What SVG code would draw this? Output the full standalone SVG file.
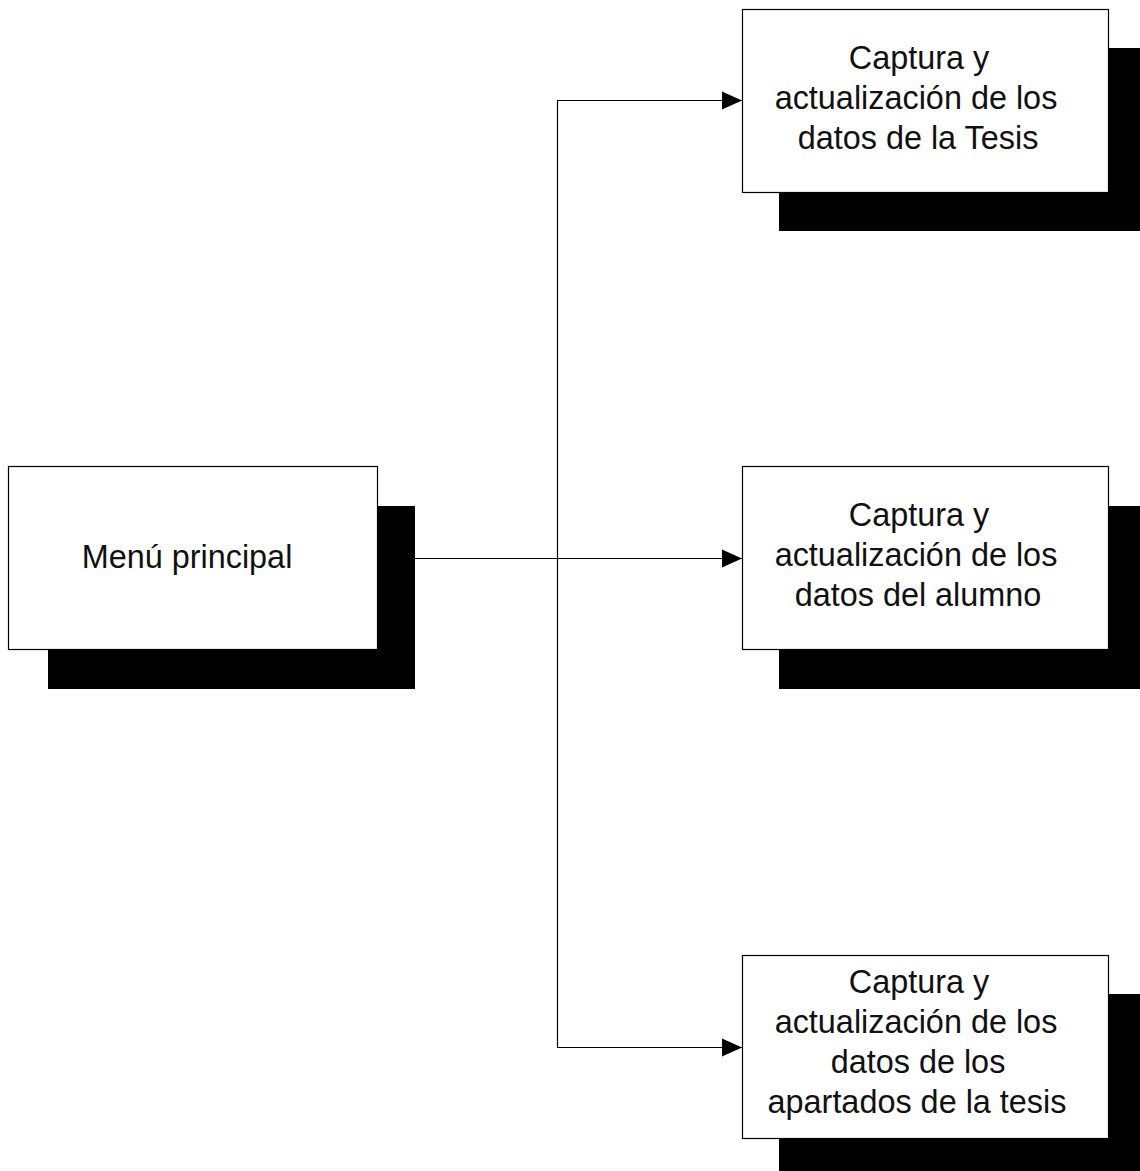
<svg xmlns="http://www.w3.org/2000/svg" width="1140" height="1171" viewBox="0 0 1140 1171">
<style>
.shadow{fill:#000}
.box{fill:#fff;stroke:#000;stroke-width:1.2}
.lbl{font-family:"Liberation Sans",Arial,sans-serif;font-size:32.4px;fill:#111;text-anchor:middle}
.con{fill:none;stroke:#000;stroke-width:1.2}
</style>
<defs>
<marker id="arr" viewBox="0 0 20 20" refX="20" refY="10" markerWidth="20" markerHeight="20" markerUnits="userSpaceOnUse" orient="auto">
<path d="M0,1 L20,10 L0,19 Z" fill="#000"/>
</marker>
</defs>
<rect width="1140" height="1171" fill="#fff"/>
<g id="menu">
<rect class="shadow" x="48" y="506" width="367" height="183"/>
<rect class="box" x="8.5" y="466.5" width="369" height="183"/>
<text class="lbl" x="187" y="568">Menú principal</text>
</g>
<g id="tesis">
<rect class="shadow" x="779" y="48" width="366" height="183"/>
<rect class="box" x="742.5" y="9.5" width="366" height="183"/>
<text class="lbl" x="919" y="69">Captura y</text>
<text class="lbl" x="916" y="109">actualización de los</text>
<text class="lbl" x="918" y="149">datos de la Tesis</text>
</g>
<g id="alumno">
<rect class="shadow" x="779" y="506" width="366" height="183"/>
<rect class="box" x="742.5" y="466.5" width="366" height="183"/>
<text class="lbl" x="919" y="526">Captura y</text>
<text class="lbl" x="916" y="566">actualización de los</text>
<text class="lbl" x="918" y="606">datos del alumno</text>
</g>
<g id="apartados">
<rect class="shadow" x="779" y="994" width="366" height="183"/>
<rect class="box" x="742.5" y="955.5" width="366" height="183"/>
<text class="lbl" x="919" y="993">Captura y</text>
<text class="lbl" x="916" y="1033">actualización de los</text>
<text class="lbl" x="918" y="1073">datos de los</text>
<text class="lbl" x="917" y="1113">apartados de la tesis</text>
</g>
<g id="connectors">
<path class="con" d="M377,558.5 H742" marker-end="url(#arr)"/>
<path class="con" d="M557.5,558.5 V100.5 H742" marker-end="url(#arr)"/>
<path class="con" d="M557.5,558.5 V1047.5 H742" marker-end="url(#arr)"/>
</g>
</svg>
